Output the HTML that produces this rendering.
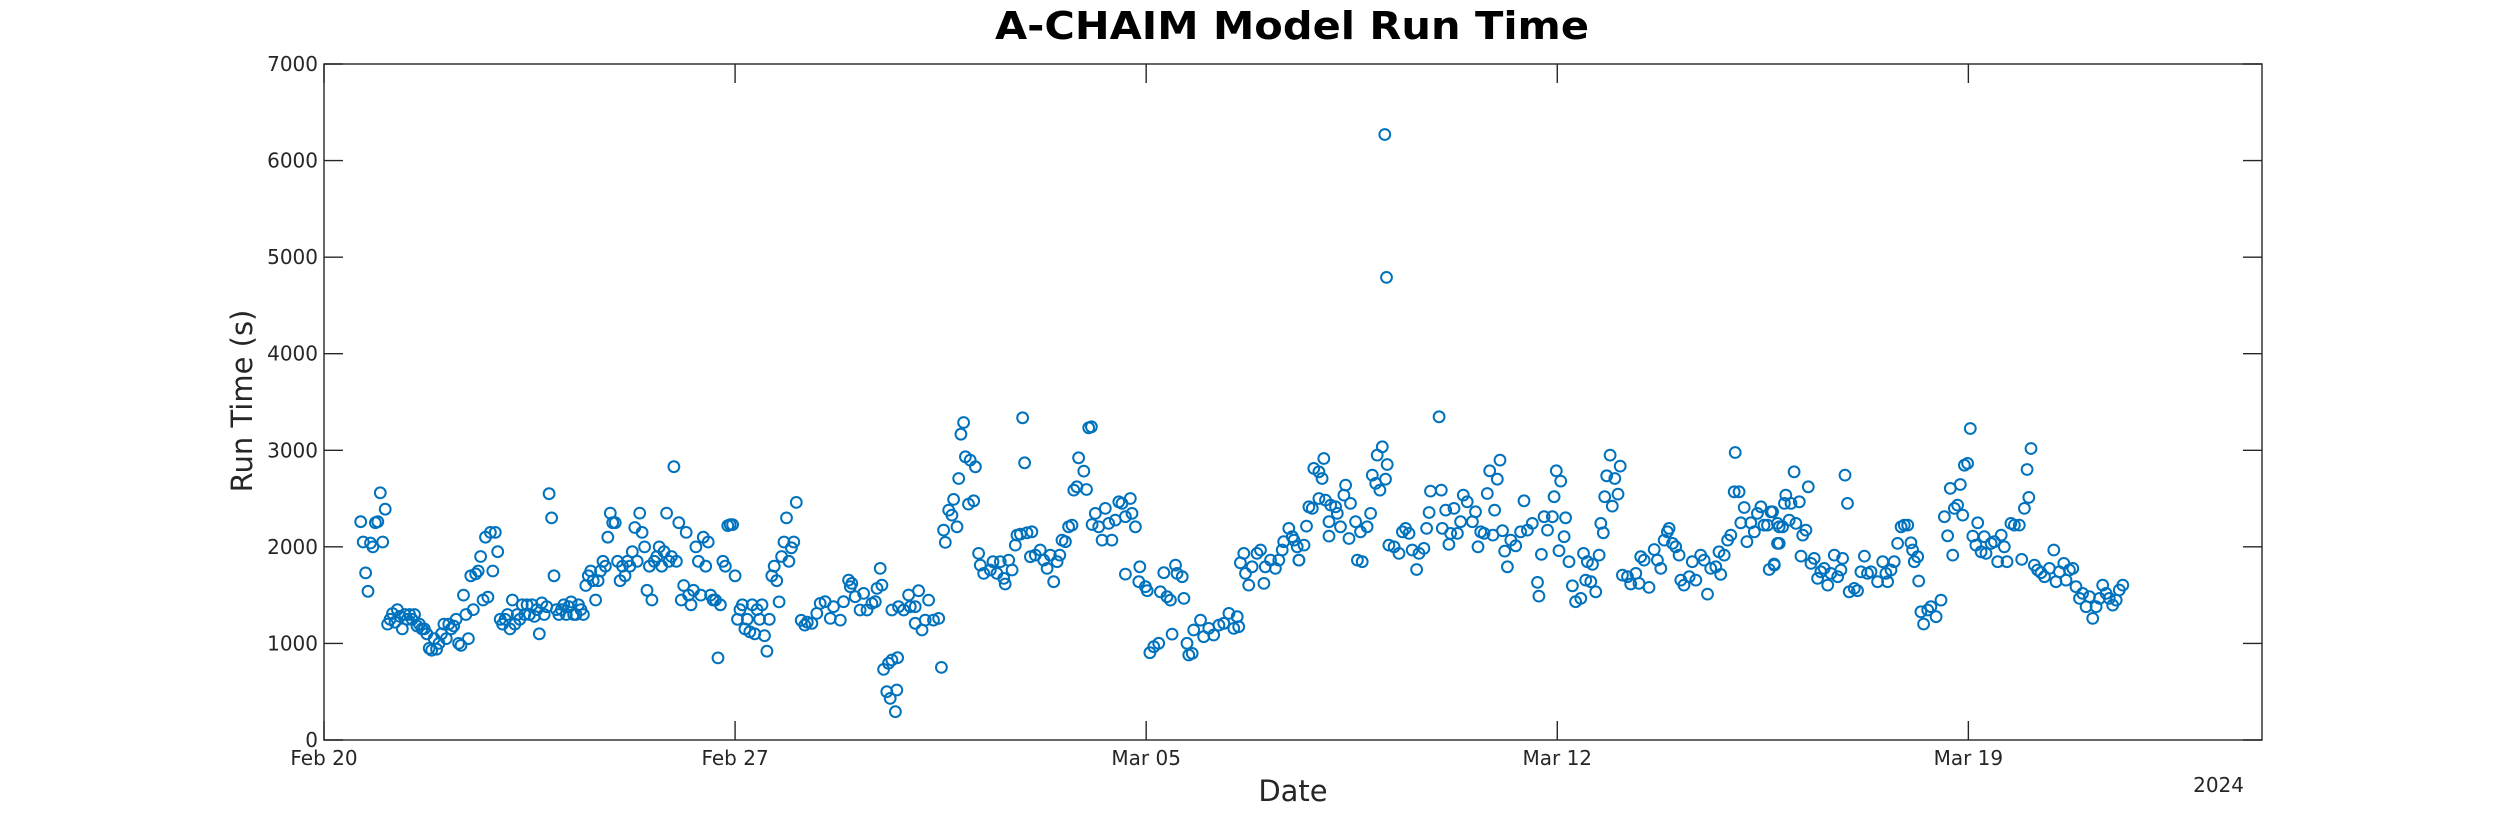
<!DOCTYPE html>
<html><head><meta charset="utf-8"><title>A-CHAIM Model Run Time</title>
<style>html,body{margin:0;padding:0;background:#fff;}svg{display:block;}text{font-family:"DejaVu Sans","Liberation Sans",sans-serif;fill:#262626;}</style>
</head><body>
<svg id="chart" width="2500" height="833" viewBox="0 0 2500 833" xmlns="http://www.w3.org/2000/svg">
<rect width="2500" height="833" fill="#fff"/>
<text x="1292" y="39" text-anchor="middle" font-size="38" font-weight="bold" textLength="594" lengthAdjust="spacingAndGlyphs" style="fill:#000">A-CHAIM Model Run Time</text>
<g id="grid"></g>
<g id="marks"></g>
<text x="1293" y="801" text-anchor="middle" font-size="29">Date</text>
<text transform="translate(252,401) rotate(-90)" text-anchor="middle" font-size="29">Run Time (s)</text>
<text x="2244" y="792" text-anchor="end" font-size="20">2024</text>
</svg>
<script>
// Hourly run times starting at hour 15 after Feb 20 00:00
const hourlyStart = 15;
const hourlyRunTime = [2260,2050,1730,1540,2040,2000,2250,2260,2560,2050,2390,
1200,1250,1310,1220,1350,1280,1150,1300,1250,1300,1250,1300,1180,1200,1150,1150,1100,950,930,
1050,940,1000,1100,1200,1050,1200,1150,1180,1250,1000,980,1500,1300,1050,1700,1350,1720,1750,1900,1450,2100,1480,2150,1750,2150,1950,
1250,1200,1250,1300,1150,1450,1200,1300,1250,1400,1300,1400,1300,1400,1280,1350,1100,1420,1300,1380,
2550,2300,1700,1350,1300,1350,1400,1300,1380,1430,1300,1300,1400,1350,1300,1600,1700,
1750,1650,1450,1650,1750,1850,1800,2100,2350,2250,2250,1850,1650,1800,1700,1850,1800,1950,2200,1850,2350,2150,2000,1550,1800,1450,1850,1900,2000,1800,1950,2350,1850,1900,
2830,1850,2250,1450,1600,2150,1500,1400,1550,2000,1850,1500,2100,1800,2050,1500,1450,1450,850,1400,1850,1800,2220,2230,2230,
1700,1250,1350,1400,1150,1250,1120,1400,1100,1350,1250,1400,1080,920,1250,1700,1800,1650,1430,1900,2050,2300,1850,1990,2050,2460];
// Further runs: hours since Feb 20 00:00 and run time (s)
const sampleHours = [195,196.5,197.5,199.4,201.4,202.8,204.8,206.9,208.2,211.0,212.3,214.4,215.1,215.7,217.1,219.1,220.5,221.9,223.9,225.3,226.0,228.0,227.3,228.7,230.7,232.1,234.4,230.0,231.4,234.1,233.5,232.1,234.8,236.9,238.9,239.6,241.6,243.0,241.6,244.4,245.7,247.1,249.1,251.2,252.3,253.2,253.9,255.3,256.6,257.3,258.7,259.4,260.3,261.4,262.1,264.1,266.2,263.4,265.5,267.5,268.2,269.6,272.3,273.4,275.0,276.4,277.8,278.4,279.8,281.2,282.5,283.2,284.6,285.5,286.3,287.3,289.3,288.7,290.7,292.7,294.1,295.5,296.8,298.2,299.6,300.7,301.6,303.0,304.3,305.7,306.4,307.7,308.4,310.5,311.6,312.5,313.6,313.9,315.2,316.6,318.0,319.3,320.7,322.0,323.4,324.8,326.1,327.5,329.5,330.2,331.6,327.5,333.4,333.0,335.7,336.4,337.5,339.1,341.1,341.8,343.2,344.5,345.9,346.6,348.0,348.6,350.7,351.4,352.7,353.4,354.8,355.4,358.2,359.5,361.6,363.6,365.7,367.7,369.8,371.8,373.8,373.2,374.5,375.9,376.6,377.9,379.3,381.3,382.7,384.1,384.7,386.8,388.8,390.2,391.6,392.2,394.3,395.7,397.7,398.4,
396.4,398.4,400.5,401.5,402.5,403.9,404.5,406.6,407.9,408.6,406.6,409.3,411.4,410.7,410.7,413.4,414.1,415.4,416.8,417.5,418.9,419.5,421.6,422.3,424.3,423.6,426.3,427.7,428.4,429.8,430.4,431.5,432.5,433.8,434.5,433.5,434.2,435.2,437.3,439.3,440.7,442.0,443.4,444.7,446.5,447.5,449.5,450.6,451.6,452.2,456.6,455.7,457.0,458.4,459.7,460.4,461.8,463.2,464.5,465.6,467.2,469.3,470.6,471.6,472.7,474.1,475.4,476.4,477.7,478.4,479.5,480.6,481.6,482.5,483.6,485.0,487.0,489.0,490.4,491.8,493.8,495.9,496.5,497.5,498.6,500.0,502.0,502.7,503.6,504.7,505.4,506.8,507.4,508.8,510.2,511.5,513.6,514.7,515.6,516.3,517.7,518.4,519.7,521.1,521.8,522.8,523.4,524.2,525.6,526.5,527.5,528.8,529.7,530.6,532.7,534.0,536.1,537.4,538.1,539.5,541.5,543.6,544.9,546.3,547.7,549.0,549.7,551.1,552.4,553.8,554.5,555.8,557.9,559.2,560.6,562.6,564.0,565.4,566.7,568.8,570.1,570.8,572.2,573.6,574.9,576.3,576.7,578.3,579.0,580.4,581.5,583.1,584.5,585.8,587.2,588.5,589.9,591.3,590.6,592.6,594.0,594.7,
592.0,592.7,594.0,594.7,596.1,597.4,596.8,598.8,599.5,600.8,601.5,602.9,604.3,605.6,606.6,603.6,607.7,609.0,610.4,611.7,613.1,614.5,615.8,617.2,618.6,619.9,620.6,621.6,622.6,623.3,625.4,626.7,628.1,629.5,630.8,632.2,634.9,637.0,638.3,639.0,640.4,641.7,643.1,644.5,645.8,647.2,648.5,649.2,649.9,651.3,651.7,652.6,653.7,655.4,656.7,658.8,660.8,662.2,663.5,664.6,665.6,666.3,667.6,668.7,669.7,670.4,671.7,672.8,673.8,675.1,675.8,677.2,678.5,679.2,681.3,682.6,684.0,685.4,686.7,687.8,689.4,690.8,692.8,693.8,694.9,696.0,696.7,697.6,699.0,700.3,701.7,703.1,705.1,706.9,707.8,709.2,711.0,711.9,713.3,714.7,716.0,717.4,718.7,720.1,721.5,722.8,724.2,725.6,726.9,728.3,729.6,731.0,732.4,733.7,735.1];
const sampleRunTime = [1240,1190,1220,1208,1311,1415,1432,1259,1380,1242,1432,1656,1587,1622,1484,1346,1518,1346,1415,1432,1570,1604,1777,731,794,828,852,500,431,518,293,1346,1380,1346,1501,1380,1380,1546,1208,1139,1242,1449,1242,1259,752,2174,2046,2381,2329,2491,2208,2708,3167,3288,2933,2898,2829,2443,2477,1932,1811,1725,1760,1846,1725,1846,1673,1615,1863,1760,2018,2122,2132,3336,2870,2146,2156,1898,1915,1967,1863,1777,1915,1639,1846,1915,2070,2053,2208,2225,2588,2622,2922,2784,2594,3233,3243,2232,2346,2208,2070,2398,2243,2070,2277,2467,2450,2312,2501,2346,2208,1718,1794,1639,1587,1546,904,966,1001,1535,1732,1484,1449,1097,1811,1725,1691,1466,1001,880,897,1139,1242,1070,1156,1087,1190,1208,1311,1156,1173,1277,1835,1932,1725,1604,1794,1932,1967,1622,1794,1863,1777,1863,1967,2053,2191,2105,2001,1863,
2070,1863,2018,2215,2415,2398,2812,2777,2708,2915,2501,2484,2432,2260,2111,2415,2346,2208,2536,2639,2087,2450,2260,1863,1846,2156,2208,2346,2743,2657,2950,2588,3036,2701,2853,6270,4790,2018,2001,1932,2156,2191,2139,1967,1766,1932,1984,2191,2356,2577,2588,3347,2191,2381,2025,2139,2398,2139,2260,2536,2467,2260,2363,2001,2156,2139,2553,2788,2122,2381,2701,2898,2167,1956,1794,2070,2011,2156,2477,2174,2243,1632,1490,1922,2312,2174,2312,2519,2788,1960,2681,2105,2301,1846,1597,1432,1466,1932,1656,1846,1639,1818,1535,1915,2243,2146,2519,2736,2950,2422,2708,2546,2836,1708,1691,1615,1725,1622,1898,1863,1580,1973,1863,1777,2070,2156,2191,2036,2001,1915,1656,1604,1691,1846,1656,1915,1863,1511,1777,1794,1949,1715,1915,2070,2122,2570,2977,2570,2249,2408,2053,2249,2156,2346,2415,2225,2225,2363,1766,1822,2036,2208,
2363,1811,2243,2036,2208,2536,2450,2277,2450,2777,2243,2467,2122,2174,2622,1904,1829,1880,1673,1742,1777,1604,1725,1915,1691,1760,1880,2743,2450,1535,1570,1546,1742,1904,1725,1742,1639,1846,1725,1639,1760,1846,2036,2208,2225,2225,2042,1967,1846,1898,1646,1328,1201,1346,1380,1277,1449,2312,2115,2605,1915,2398,2432,2646,2329,2846,2864,3226,2111,2018,2249,1949,2105,1932,2036,2053,1846,2122,2001,1846,2243,2225,2225,1870,2398,2801,2512,3019,1811,1760,1732,1691,1777,1967,1639,1742,1829,1656,1760,1777,1587,1466,1518,1380,1484,1259,1380,1466,1604,1518,1466,1397,1449,1553,1604];
const yTicks = [0,1000,2000,3000,4000,5000,6000,7000];
const xTickDays = [0,7,14,21,28];
const xTickLabels = ["Feb 20","Feb 27","Mar 05","Mar 12","Mar 19"];

const NS = "http://www.w3.org/2000/svg";
const L = 324, R = 2262, T = 64, B = 740;
const X_MAX_DAYS = 33, Y_MAX = 7000;
function xScale(hours){ return L + (hours/24)/X_MAX_DAYS*(R-L); }
function yScale(v){ return B - v/Y_MAX*(B-T); }
function mk(tag, attrs, parent){ const e=document.createElementNS(NS,tag); for(const k in attrs) e.setAttribute(k,attrs[k]); parent.appendChild(e); return e; }

const grid = document.getElementById('grid');
const marks = document.getElementById('marks');
const box = mk('rect',{x:L,y:T,width:R-L,height:B-T,fill:'none',stroke:'#262626','stroke-width':1.4},grid);



yTicks.forEach(v=>{
  const y = yScale(v);
  const t1 = mk('line',{x1:L,x2:L+19,y1:y,y2:y,stroke:'#262626','stroke-width':1.4},grid);
  
  
  const t2 = mk('line',{x1:R-19,x2:R,y1:y,y2:y,stroke:'#262626','stroke-width':1.4},grid);
  
  
  const lb = mk('text',{x:L-6,y:y+7,'text-anchor':'end','font-size':20},grid);
  lb.textContent = String(v);
  
  
});
xTickDays.forEach((d,i)=>{
  const x = xScale(d*24);
  const t1 = mk('line',{x1:x,x2:x,y1:B,y2:B-19,stroke:'#262626','stroke-width':1.4},grid);
  
  
  const t2 = mk('line',{x1:x,x2:x,y1:T,y2:T+19,stroke:'#262626','stroke-width':1.4},grid);
  
  
  const lb = mk('text',{x:x,y:B+25,'text-anchor':'middle','font-size':20},grid);
  lb.textContent = xTickLabels[i];
  
  
});

function point(h,v){
  const c = mk('circle',{cx:xScale(h).toFixed(1),cy:yScale(v).toFixed(1),r:5.4,fill:'none',stroke:'#0072BD','stroke-width':2},marks);
  
  
}
hourlyRunTime.forEach((v,i)=>point(hourlyStart+i,v));
sampleHours.forEach((h,i)=>point(h,sampleRunTime[i]));
</script>
</body></html>
